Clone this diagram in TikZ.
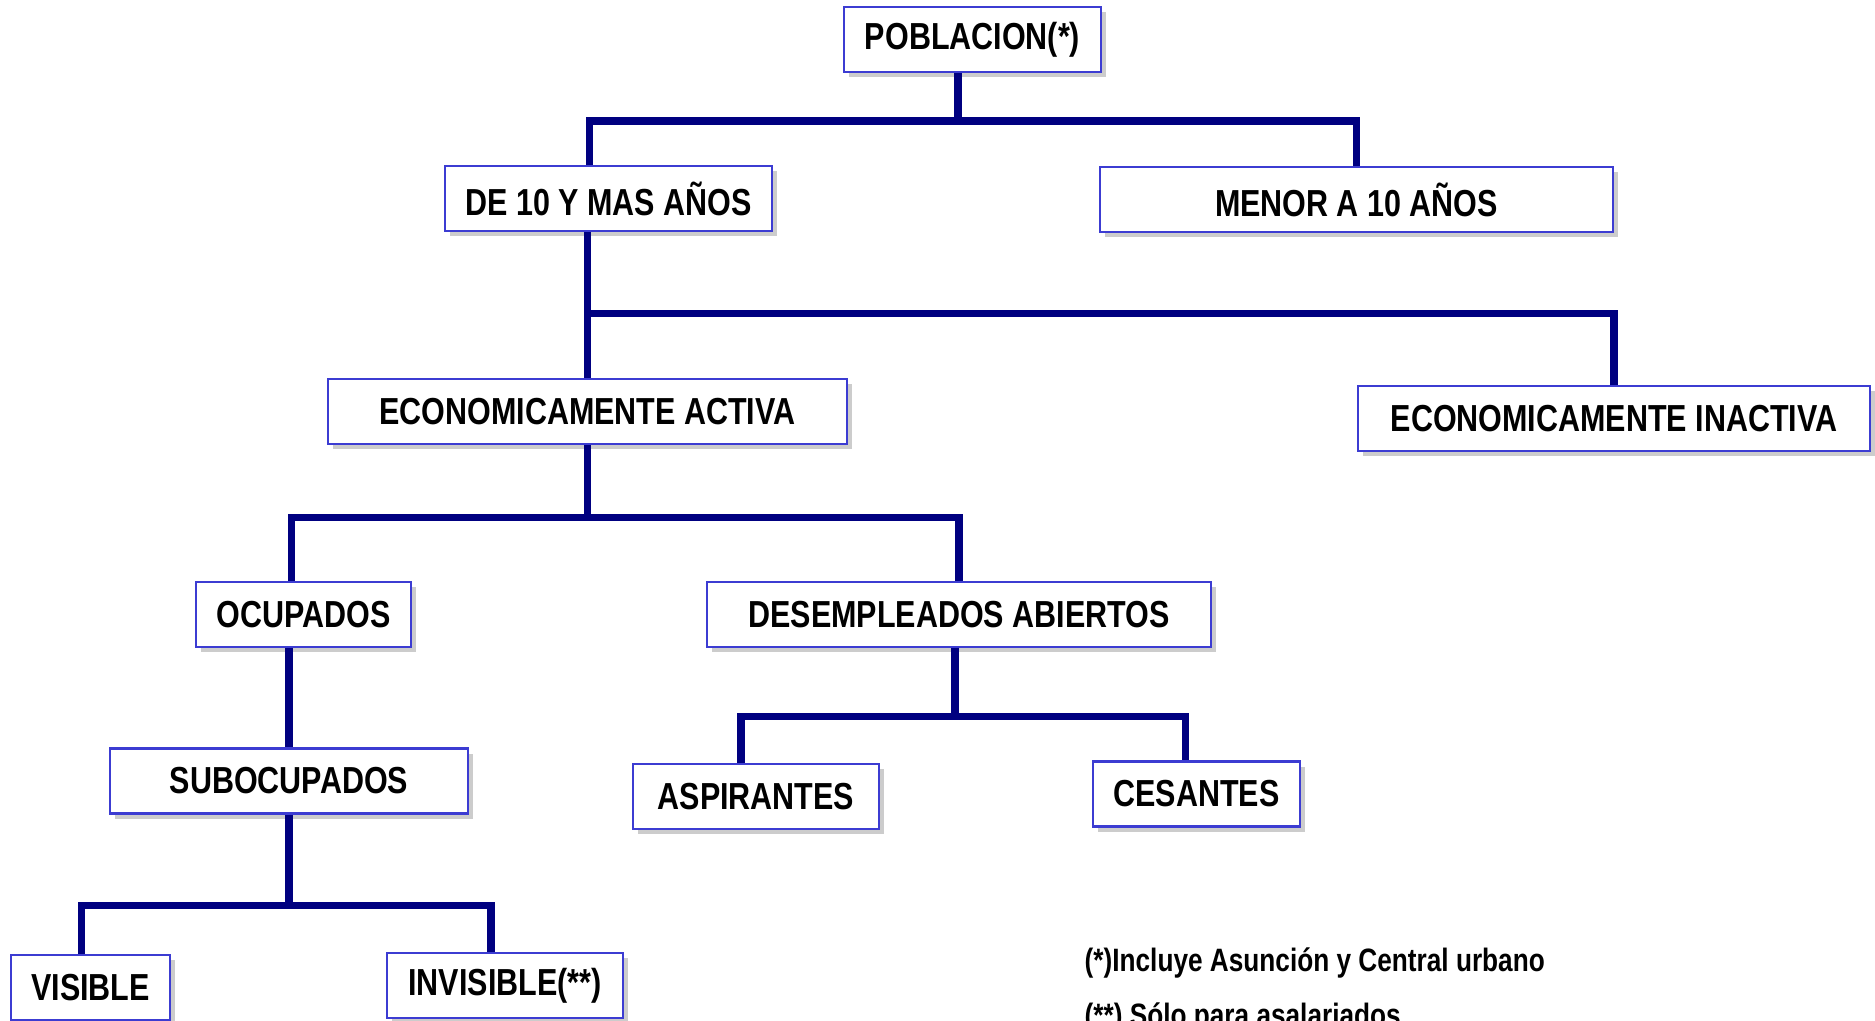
\documentclass[tikz,border=0pt]{standalone}
\usepackage{fontspec}
\newfontfamily\narrowfont[FakeStretch=0.81]{Liberation Sans}
\usetikzlibrary{shadows}
\definecolor{linenavy}{RGB}{0,0,128}
\definecolor{boxblue}{RGB}{60,60,210}

\begin{document}
\begin{tikzpicture}[x=0.01cm,y=-0.01cm]

\tikzset{box/.style = {shape=rectangle,draw=boxblue,line width=0.6pt,fill=white,inner sep=0pt,minimum height=0.65cm,font=\narrowfont\bfseries\fontsize{10.7}{12}\selectfont,drop shadow={shadow xshift=0.5mm,shadow yshift=-0.5mm,opacity=0.4}}}
\tikzset{edge/.style = {draw=linenavy,line width=2pt}}
\tikzset{note/.style = {anchor=base west,inner sep=0pt,font=\narrowfont\bfseries\fontsize{9.2}{11}\selectfont}}

\useasboundingbox (0,0) rectangle (1875,1020);

%boxes
\node[box, minimum width=2.57cm] (pob) at (972.5,39.5) {POBLACION(*)};
\node[box, minimum width=3.27cm] (de10) at (608.5,198.5) {DE 10 Y MAS AÑOS};
\node[box, minimum width=5.13cm] (menor) at (1356.5,199.5) {MENOR A 10 AÑOS};
\node[box, minimum width=5.19cm] (eca) at (587.5,411.5) {ECONOMICAMENTE ACTIVA};
\node[box, minimum width=5.12cm] (eci) at (1614,418.5) {ECONOMICAMENTE INACTIVA};
\node[box, minimum width=2.15cm] (ocup) at (303.5,614.5) {OCUPADOS};
\node[box, minimum width=5.04cm] (desemp) at (959,614.5) {DESEMPLEADOS ABIERTOS};
\node[box, minimum width=3.58cm] (subocup) at (289,781) {SUBOCUPADOS};
\node[box, minimum width=2.46cm] (asp) at (756,796.5) {ASPIRANTES};
\node[box, minimum width=2.07cm] (ces) at (1196.5,794) {CESANTES};
\node[box, minimum width=1.59cm] (vis) at (90.5,987.5) {VISIBLE};
\node[box, minimum width=2.36cm] (invis) at (505,985.5) {INVISIBLE(**)};

%notes
\node[note] (n1) at (1084,971) {(*)Incluye Asunción y Central urbano};
\node[note] (n2) at (1084,1026) {(**) Sólo para asalariados};

%joints
\coordinate (j1) at (958,121);
\coordinate (j2) at (587.5,313);
\coordinate (j3) at (587.5,517);
\coordinate (j4) at (955,716);
\coordinate (j5) at (289,905);

%edges
\draw[edge] (pob.south -| j1) -- (j1);
\draw[edge] ([xshift=-0.19cm]de10.north) |- (j1) -| (menor.north);
\draw[edge] (de10.south -| eca.north) -- (eca.north);
\draw[edge] (j2) -| (eci.north);
\draw[edge] (eca.south) -- (j3);
\draw[edge] ([xshift=-0.12cm]ocup.north) |- (j3) -| (desemp.north);
\draw[edge] (ocup.south -| subocup.north) -- (subocup.north);
\draw[edge] (desemp.south -| j4) -- (j4);
\draw[edge] ([xshift=-0.15cm]asp.north) |- (j4) -| ([xshift=-0.11cm]ces.north);
\draw[edge] (subocup.south) -- (j5);
\draw[edge] ([xshift=-0.09cm]vis.north) |- (j5) -| ([xshift=-0.14cm]invis.north);

\end{tikzpicture}
\end{document}
